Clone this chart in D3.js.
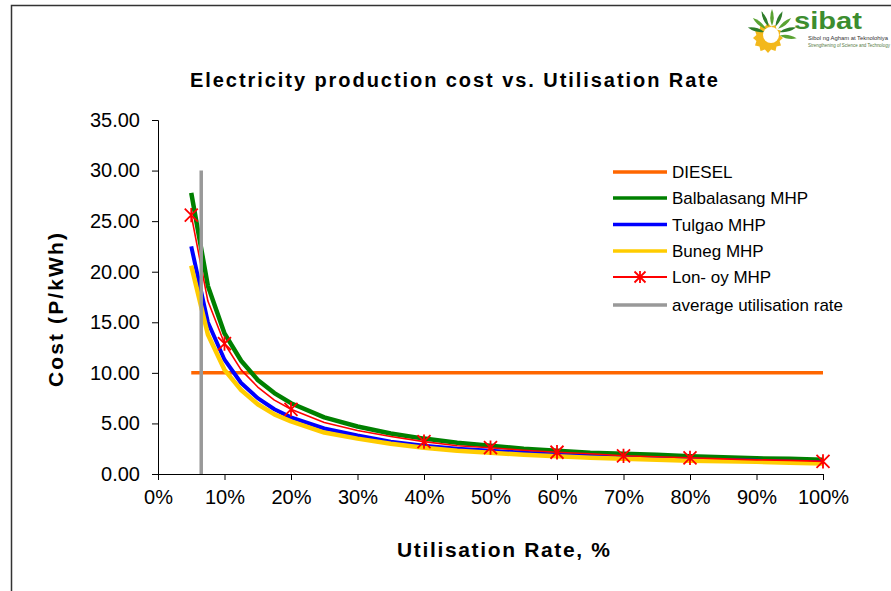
<!DOCTYPE html>
<html>
<head>
<meta charset="utf-8">
<script src="https://cdn.jsdelivr.net/npm/d3@7"></script>
<style>
  html, body { margin: 0; padding: 0; background: #fff; }
  svg { display: block; font-family: "Liberation Sans", Arial, sans-serif; }
</style>
</head>
<body>
<svg id="chart" width="891" height="591"></svg>
<script>
// ---- data ----
const utilisation = [0.05, 0.075, 0.10, 0.125, 0.15, 0.175, 0.20, 0.25, 0.30, 0.35, 0.40, 0.45, 0.50, 0.55, 0.60, 0.65, 0.70, 0.75, 0.80, 0.85, 0.90, 0.95, 1.00];
const dieselCost      = [10, 10, 10, 10, 10, 10, 10, 10, 10, 10, 10, 10, 10, 10, 10, 10, 10, 10, 10, 10, 10, 10, 10];
const balbalasangCost = [27.8, 18.6, 13.9, 11.2, 9.3, 8.0, 7.0, 5.6, 4.7, 4.0, 3.5, 3.1, 2.8, 2.5, 2.3, 2.1, 2.0, 1.9, 1.75, 1.65, 1.55, 1.5, 1.4];
const tulgaoCost      = [22.5, 15.0, 11.3, 9.0, 7.5, 6.4, 5.6, 4.5, 3.8, 3.2, 2.8, 2.5, 2.3, 2.1, 1.9, 1.75, 1.6, 1.5, 1.4, 1.35, 1.3, 1.2, 1.15];
const bunegCost       = [20.6, 13.8, 10.3, 8.3, 6.9, 5.9, 5.2, 4.1, 3.5, 3.0, 2.6, 2.3, 2.1, 1.9, 1.75, 1.6, 1.5, 1.4, 1.3, 1.25, 1.2, 1.1, 1.05];
const lonoyCost       = [25.6, 17.1, 12.9, 10.3, 8.6, 7.3, 6.4, 5.1, 4.3, 3.7, 3.2, 2.8, 2.6, 2.35, 2.15, 2.0, 1.8, 1.7, 1.6, 1.5, 1.4, 1.35, 1.25];
const lonoyMarkerRates = [0.05, 0.10, 0.20, 0.40, 0.50, 0.60, 0.70, 0.80, 1.00];
const averageRate = [0.065, 0.065];
const averageCost = [0, 30];

const seriesNames = ["DIESEL", "Balbalasang MHP", "Tulgao MHP", "Buneg MHP", "Lon- oy MHP", "average utilisation rate"];
const seriesColors = ["#FF6600", "#008000", "#0000FF", "#FFCC00", "#FF0000", "#999999"];
const seriesWidths = [3.5, 4.5, 4, 4.5, 1.6, 3.5];

const yTicks = [0, 5, 10, 15, 20, 25, 30, 35];
const xTicks = [0, 0.1, 0.2, 0.3, 0.4, 0.5, 0.6, 0.7, 0.8, 0.9, 1.0];
const titleText = "Electricity production cost vs. Utilisation Rate";
const yTitle = "Cost (P/kWh)";
const xTitle = "Utilisation Rate, %";

// ---- drawing ----
const svg = d3.select("#chart");
const x = d3.scaleLinear().domain([0, 1]).range([158, 823]);
const y = d3.scaleLinear().domain([0, 35]).range([474, 120]);

// outer frame
svg.append("path").attr("d", "M11.5,591 L11.5,5.5 L891,5.5")
  .attr("fill", "none").attr("stroke", "#333").attr("stroke-width", 1.5);

// title
svg.append("text").attr("x", 190).attr("y", 87)
  .attr("textLength", 528).attr("lengthAdjust", "spacing")
  .attr("font-size", 20).attr("font-weight", "bold").attr("fill", "#000")
  .text(titleText);

// axes
const yAxis = d3.axisLeft(y).tickValues(yTicks).tickSize(6).tickPadding(12)
  .tickFormat(d => d.toFixed(2));
const gy = svg.append("g").attr("transform", "translate(158,0)").call(yAxis);
gy.selectAll("text").attr("font-size", 20).attr("font-family", "Liberation Sans, Arial, sans-serif").attr("fill", "#000");
gy.select(".domain").attr("stroke", "#000");

const xAxis = d3.axisBottom(x).tickValues(xTicks).tickSize(6).tickPadding(10)
  .tickFormat(d3.format(".0%"));
const gx = svg.append("g").attr("transform", "translate(0,474)").call(xAxis);
gx.selectAll("text").attr("font-size", 20).attr("font-family", "Liberation Sans, Arial, sans-serif").attr("fill", "#000");
gx.select(".domain").attr("stroke", "#000");

// axis titles
svg.append("text").attr("transform", "translate(63,310) rotate(-90)")
  .attr("text-anchor", "middle").attr("font-size", 21).attr("font-weight", "bold")
  .attr("textLength", 154).attr("lengthAdjust", "spacing")
  .text(yTitle);
svg.append("text").attr("x", 397).attr("y", 557)
  .attr("font-size", 21).attr("font-weight", "bold")
  .attr("textLength", 213).attr("lengthAdjust", "spacing")
  .text(xTitle);

// series
const line = d3.line().x(d => x(d[0])).y(d => y(d[1]));
const seriesData = [dieselCost, balbalasangCost, tulgaoCost, bunegCost, lonoyCost];
seriesData.forEach((vals, i) => {
  svg.append("path")
    .datum(utilisation.map((u, j) => [u, vals[j]]))
    .attr("fill", "none")
    .attr("stroke", seriesColors[i])
    .attr("stroke-width", seriesWidths[i])
    .attr("stroke-linejoin", "round")
    .attr("d", line);
});

// Lon-oy markers
function star(g, cx, cy, r, color) {
  const p = `M${cx - r},${cy - r}L${cx + r},${cy + r}M${cx - r},${cy + r}L${cx + r},${cy - r}M${cx},${cy - r * 1.1}L${cx},${cy + r * 1.1}`;
  g.append("path").attr("d", p).attr("stroke", color).attr("stroke-width", 1.8).attr("fill", "none");
}
const mg = svg.append("g");
lonoyMarkerRates.forEach(r => {
  const j = utilisation.indexOf(r);
  star(mg, x(r), y(lonoyCost[j]), 6.5, seriesColors[4]);
});

// average utilisation rate
svg.append("path")
  .datum(averageRate.map((u, j) => [u, averageCost[j]]))
  .attr("fill", "none").attr("stroke", seriesColors[5]).attr("stroke-width", seriesWidths[5])
  .attr("d", line);

// legend
const legendY = [172, 198, 224.5, 251, 277, 305];
const lg = svg.append("g");
seriesNames.forEach((name, i) => {
  const ly = legendY[i];
  lg.append("line").attr("x1", 613).attr("x2", 667).attr("y1", ly).attr("y2", ly)
    .attr("stroke", seriesColors[i]).attr("stroke-width", i === 4 ? 1.8 : 3.5);
  if (i === 4) star(lg, 640, ly, 5.5, seriesColors[4]);
  lg.append("text").attr("x", 672).attr("y", ly).attr("dy", "0.36em")
    .attr("font-size", 17).attr("fill", "#000").text(name);
});

// logo (approximation of "sibat")
const logo = svg.append("g");
const cx = 768, cy = 38;
const gearTeeth = 12;
let gp = "";
for (let k = 0; k < gearTeeth * 2; k++) {
  const a = Math.PI * k / gearTeeth;
  const rr = k % 2 === 0 ? 15 : 12;
  gp += (k === 0 ? "M" : "L") + (cx + rr * Math.cos(a)).toFixed(1) + "," + (cy + rr * Math.sin(a)).toFixed(1);
}
logo.append("path").attr("d", gp + "Z").attr("fill", "#F3B81C");
logo.append("circle").attr("cx", cx + 3).attr("cy", cy - 3).attr("r", 8).attr("fill", "#fff");
const leafAngles = [-165, -140, -115, -90, -65, -40, -15, 10];
leafAngles.forEach((deg, k) => {
  const a = deg * Math.PI / 180;
  const r0 = 8, r1 = 25;
  const ox = cx + 4, oy = cy - 4;
  const bx = ox + r0 * Math.cos(a), by = oy + r0 * Math.sin(a);
  const tx = ox + r1 * Math.cos(a), ty = oy + r1 * Math.sin(a);
  const nx = -Math.sin(a) * 3.5, ny = Math.cos(a) * 3.5;
  const mx = (bx + tx) / 2, my = (by + ty) / 2;
  logo.append("path")
    .attr("d", `M${bx},${by}Q${mx + nx},${my + ny} ${tx},${ty}Q${mx - nx},${my - ny} ${bx},${by}Z`)
    .attr("fill", k % 2 ? "#5AA332" : "#2F7D2A");
});
logo.append("text").attr("x", 794).attr("y", 29).attr("font-size", 24).attr("font-weight", "bold")
  .attr("fill", "#3C8D2F").attr("textLength", 68).attr("lengthAdjust", "spacingAndGlyphs").text("sibat");
logo.append("text").attr("x", 808).attr("y", 40).attr("font-size", 5).attr("fill", "#333")
  .attr("textLength", 80).attr("lengthAdjust", "spacingAndGlyphs")
  .text("Sibol ng Agham at Teknolohiya");
logo.append("text").attr("x", 808).attr("y", 47).attr("font-size", 4.5).attr("fill", "#557a44")
  .attr("textLength", 82).attr("lengthAdjust", "spacingAndGlyphs")
  .text("Strengthening of Science and Technology");
</script>
</body>
</html>
